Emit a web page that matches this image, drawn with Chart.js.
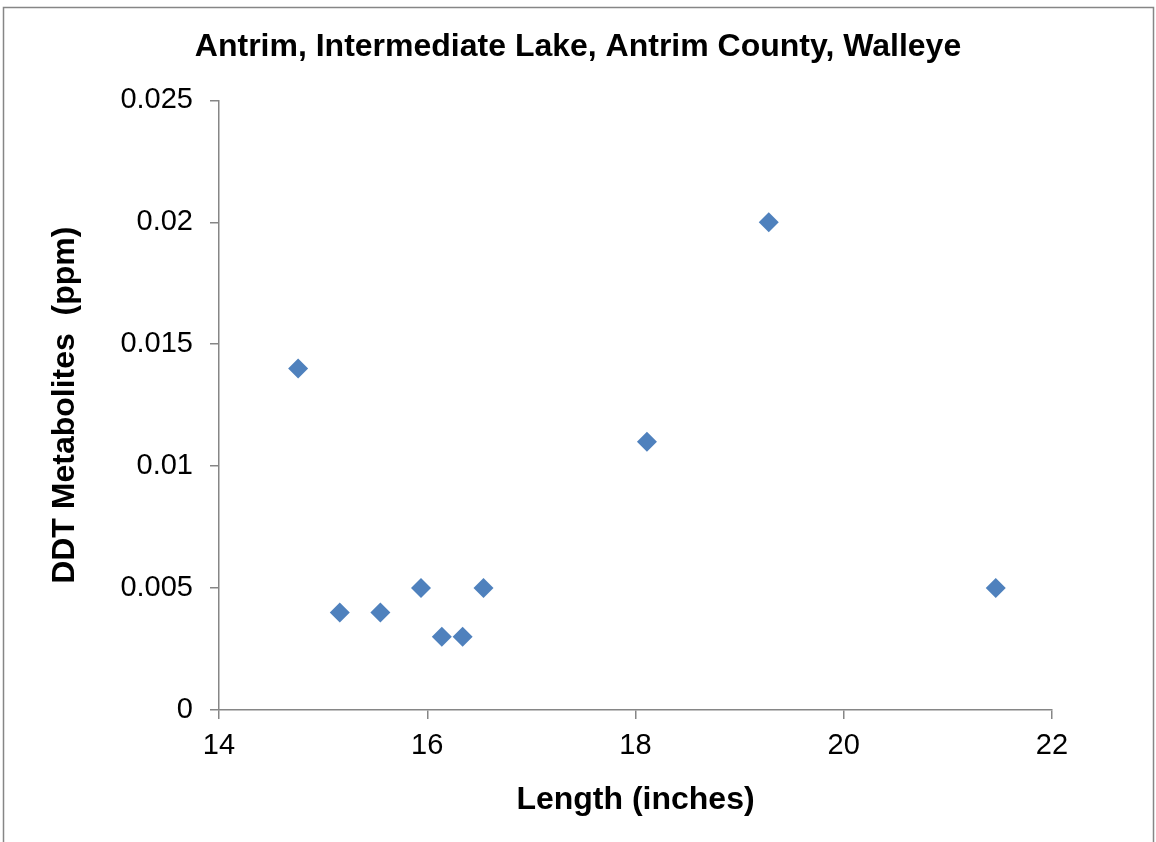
<!DOCTYPE html>
<html>
<head>
<meta charset="utf-8">
<script src="https://cdn.jsdelivr.net/npm/chart.js@4/dist/chart.umd.min.js"></script>
<style>
  html, body { margin: 0; padding: 0; background: #fff; }
  #wrap { width: 1156px; height: 842px; position: relative; }
</style>
</head>
<body>
<div id="wrap"><canvas id="chart" width="1156" height="842"></canvas></div>
<script>
// 資料: 長度 (inches) 與 DDT 代謝物 (ppm)
const lengthInches = [14.76, 15.16, 15.55, 15.94, 16.14, 16.34, 16.54, 18.11, 19.28, 21.46];
const ddtPpm = [0.014, 0.004, 0.004, 0.005, 0.003, 0.003, 0.005, 0.011, 0.020, 0.005];
const xTicks = [14, 16, 18, 20, 22];
const yTicks = [0, 0.005, 0.01, 0.015, 0.02, 0.025];

const chartTitle = 'Antrim, Intermediate Lake, Antrim County, Walleye';
const xTitle = 'Length (inches)';
const yTitle = 'DDT Metabolites  (ppm)';

const points = lengthInches.map((x, i) => ({ x: x, y: ddtPpm[i] }));

// 外框
const framePlugin = {
  id: 'frame',
  beforeDraw(chart) {
    const ctx = chart.ctx;
    ctx.save();
    ctx.fillStyle = '#fff';
    ctx.fillRect(0, 0, chart.width, chart.height);
    ctx.strokeStyle = '#868686';
    ctx.lineWidth = 1.5;
    ctx.strokeRect(3.5, 7.5, 1150, 900);
    ctx.restore();
  }
};

const fontFamily = 'Arial, "Liberation Sans", sans-serif';

new Chart(document.getElementById('chart').getContext('2d'), {
  type: 'scatter',
  data: {
    datasets: [{
      data: points,
      pointStyle: 'rectRot',
      pointRadius: 10,
      pointHoverRadius: 10,
      backgroundColor: '#4F81BD',
      borderColor: '#4F81BD',
      borderWidth: 0
    }]
  },
  options: {
    responsive: false,
    animation: false,
    layout: { padding: 0 },
    plugins: {
      legend: { display: false },
      tooltip: { enabled: false },
      title: {
        display: true,
        text: chartTitle,
        color: '#000',
        font: { family: fontFamily, size: 32, weight: 'bold' },
        padding: { top: 28, bottom: 34 }
      }
    },
    scales: {
      x: {
        type: 'linear',
        min: 14, max: 22,
        afterBuildTicks(scale) { scale.ticks = xTicks.map(v => ({ value: v })); },
        afterFit(scale) { scale.height = 132; },
        grid: { display: true, drawOnChartArea: false, drawTicks: true, tickLength: 9, color: '#868686', lineWidth: 1.5 },
        border: { display: true, color: '#868686', width: 1.5 },
        ticks: { color: '#000', padding: 10, font: { family: fontFamily, size: 29 }, maxRotation: 0 },
        title: {
          display: true, text: xTitle, color: '#000',
          font: { family: fontFamily, size: 32, weight: 'bold' },
          padding: { top: 0, bottom: 23 }
        }
      },
      y: {
        type: 'linear',
        min: 0, max: 0.025,
        afterBuildTicks(scale) { scale.ticks = yTicks.map(v => ({ value: v })); },
        afterFit(scale) { scale.width = 219; },
        grid: { display: true, drawOnChartArea: false, drawTicks: true, tickLength: 9, color: '#868686', lineWidth: 1.5 },
        border: { display: true, color: '#868686', width: 1.5 },
        ticks: { color: '#000', padding: 17, font: { family: fontFamily, size: 29 },
          callback: v => String(v) },
        title: {
          display: true, text: yTitle, color: '#000',
          font: { family: fontFamily, size: 32, weight: 'bold' },
          padding: { top: 46, bottom: 0 }
        }
      },
      // 右側留白 (空白軸)
      yRight: {
        type: 'linear',
        position: 'right',
        min: 0, max: 1,
        afterFit(scale) { scale.width = 104; },
        grid: { display: false },
        border: { display: false },
        ticks: { display: false }
      }
    }
  },
  plugins: [framePlugin]
});
</script>
</body>
</html>
